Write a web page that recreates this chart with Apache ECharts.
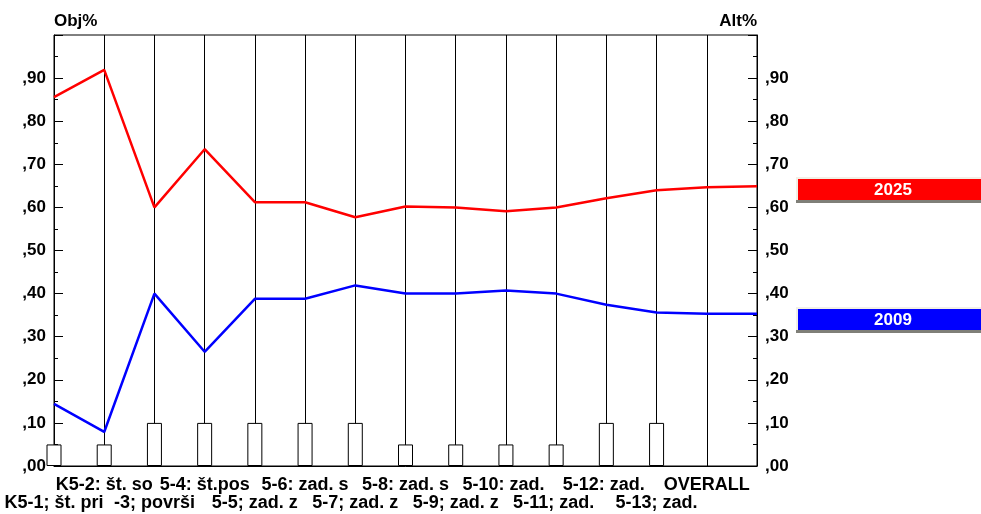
<!DOCTYPE html>
<html>
<head>
<meta charset="utf-8">
<script src="https://cdn.jsdelivr.net/npm/echarts@6/dist/echarts.min.js"></script>
<style>
  html, body { margin: 0; padding: 0; background: #fff; }
  #chart { width: 981px; height: 514px; }
</style>
</head>
<body>
<div id="chart"></div>
<script>
const categories = [
  'K5-1; št. pri', 'K5-2: št. so', '-3; površi', '5-4: št.pos', '5-5; zad. z',
  '5-6: zad. s', '5-7; zad. z', '5-8: zad. s', '5-9; zad. z', '5-10: zad. ',
  '5-11; zad. ', '5-12: zad. ', '5-13; zad.', 'OVERALL', ''
];
const values2025 = [0.856, 0.919, 0.600, 0.735, 0.612, 0.612, 0.577, 0.602, 0.600, 0.591, 0.600, 0.621, 0.640, 0.647, 0.649];
const values2009 = [0.144, 0.079, 0.400, 0.265, 0.388, 0.388, 0.419, 0.400, 0.400, 0.407, 0.400, 0.374, 0.356, 0.353, 0.353];
const weights = [0.05, 0.05, 0.1, 0.1, 0.1, 0.1, 0.1, 0.05, 0.05, 0.05, 0.05, 0.1, 0.1, null, null];
const seriesNames = ['2025', '2009'];

const font = 'Liberation Sans, Arial, sans-serif';

const yLabel = v => (v >= 1 ? '' : ',' + String(Math.round(v * 100)).padStart(2, '0'));

const yAxisBase = {
  type: 'value',
  min: 0,
  max: 1,
  interval: 0.1,
  axisLine: { show: true, lineStyle: { color: '#000', width: 1 } },
  axisTick: { show: true, inside: true, length: 9, lineStyle: { color: '#000' } },
  minorTick: { show: true, splitNumber: 2, length: 4, lineStyle: { color: '#000' } },
  splitLine: { show: false },
  axisLabel: {
    formatter: yLabel,
    color: '#000',
    fontFamily: font,
    fontWeight: 'bold',
    fontSize: 17,
    margin: 8
  },
  nameLocation: 'end',
  nameGap: 5,
  nameTextStyle: {
    color: '#000',
    fontFamily: font,
    fontWeight: 'bold',
    fontSize: 17,
    verticalAlign: 'bottom'
  }
};

const option = {
  animation: false,
  backgroundColor: '#fff',
  grid: {
    left: 54,
    right: 224,
    top: 35,
    bottom: 48,
    show: true,
    borderColor: '#000',
    borderWidth: 1,
    backgroundColor: 'transparent'
  },
  xAxis: {
    type: 'category',
    boundaryGap: false,
    data: categories,
    axisLine: { show: true, lineStyle: { color: '#000' } },
    axisTick: { show: false },
    splitLine: { show: true, lineStyle: { color: '#000', width: 1 } },
    axisLabel: {
      interval: 0,
      margin: 10,
      color: '#000',
      fontFamily: font,
      fontWeight: 'bold',
      fontSize: 18,
      lineHeight: 18,
      formatter: (val, idx) => (idx % 2 === 0 ? '\n' + val : val)
    }
  },
  yAxis: [
    Object.assign({}, yAxisBase, {
      position: 'left',
      name: 'Obj%',
      nameTextStyle: Object.assign({}, yAxisBase.nameTextStyle, { align: 'left' })
    }),
    Object.assign({}, yAxisBase, {
      position: 'right',
      name: 'Alt%',
      nameTextStyle: Object.assign({}, yAxisBase.nameTextStyle, { align: 'right' })
    })
  ],
  series: [
    {
      type: 'bar',
      data: weights,
      barWidth: 15,
      clip: false,
      itemStyle: { color: '#fff', borderColor: '#000', borderWidth: 1 },
      z: 2
    },
    {
      name: seriesNames[0],
      type: 'line',
      data: values2025,
      symbol: 'none',
      lineStyle: { color: '#ff0000', width: 2.5 },
      z: 3
    },
    {
      name: seriesNames[1],
      type: 'line',
      data: values2009,
      symbol: 'none',
      lineStyle: { color: '#0000ff', width: 2.5 },
      z: 3
    }
  ],
  graphic: [
    // legend tags on the right
    { type: 'rect', shape: { x: 796, y: 177, width: 185, height: 23 }, style: { fill: '#f1efe6' } },
    { type: 'rect', shape: { x: 798, y: 179, width: 183, height: 21 }, style: { fill: '#ff0000' } },
    { type: 'rect', shape: { x: 796, y: 200, width: 185, height: 3 }, style: { fill: '#7f7f78' } },
    {
      type: 'text', x: 893, y: 190,
      style: { text: seriesNames[0], fill: '#fff', font: 'bold 17px ' + font, textAlign: 'center', textVerticalAlign: 'middle' }
    },
    { type: 'rect', shape: { x: 796, y: 307, width: 185, height: 23 }, style: { fill: '#f1efe6' } },
    { type: 'rect', shape: { x: 798, y: 309, width: 183, height: 21 }, style: { fill: '#0000ff' } },
    { type: 'rect', shape: { x: 796, y: 330, width: 185, height: 3 }, style: { fill: '#7f7f78' } },
    {
      type: 'text', x: 893, y: 320,
      style: { text: seriesNames[1], fill: '#fff', font: 'bold 17px ' + font, textAlign: 'center', textVerticalAlign: 'middle' }
    }
  ]
};

const chart = echarts.init(document.getElementById('chart'));
chart.setOption(option);
</script>
</body>
</html>
